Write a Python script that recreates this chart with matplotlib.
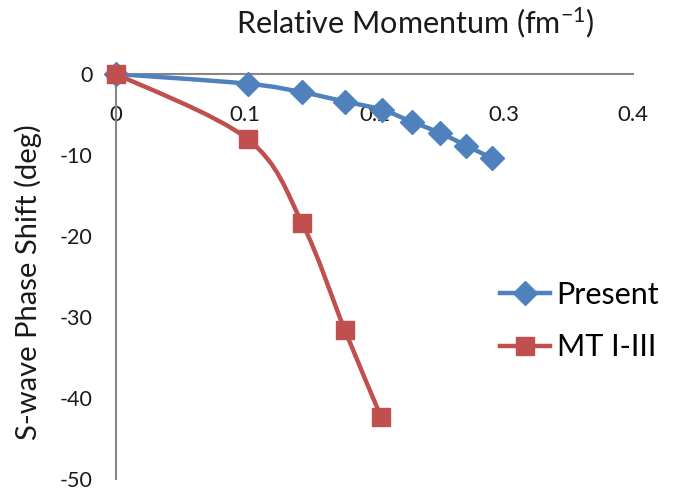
import matplotlib
matplotlib.use("Agg")
import matplotlib.pyplot as plt
from matplotlib.path import Path
from matplotlib.patches import PathPatch
from matplotlib.lines import Line2D
import numpy as np

plt.rcParams['font.family'] = ['Lato', 'DejaVu Sans']
plt.rcParams['mathtext.default'] = 'regular'
plt.rcParams['axes.unicode_minus'] = False

# data
present_k = [0.0, 0.102, 0.144, 0.177, 0.2055, 0.229, 0.251, 0.271, 0.291]
present_d = [0.0, -1.2, -2.25, -3.4, -4.4, -5.9, -7.3, -8.85, -10.4]
mt_k = [0.0, 0.102, 0.144, 0.177, 0.205]
mt_d = [0.0, -8.05, -18.4, -31.6, -42.3]
xticks = [0, 0.1, 0.2, 0.3, 0.4]
yticks = [0, -10, -20, -30, -40, -50]

blue = '#4F81BD'
red = '#C0504D'
grey = '#868686'
ink = '#1a1a1a'


def smooth_path(xs, ys):
    # excel-style smoothed line: cubic bezier segments through the points
    p = np.column_stack([xs, ys])
    verts = [p[0]]
    codes = [Path.MOVETO]
    n = len(p)
    for i in range(n - 1):
        p0 = p[i - 1] if i > 0 else p[i]
        p1, p2 = p[i], p[i + 1]
        p3 = p[i + 2] if i + 2 < n else p[i + 1]
        verts += [p1 + (p2 - p0) / 6, p2 - (p3 - p1) / 6, p2]
        codes += [Path.CURVE4] * 3
    return Path(verts, codes)


fig = plt.figure(figsize=(6.91, 4.92), dpi=100)
ax = fig.add_axes([116 / 691, 13 / 492, 517 / 691, 405 / 492])

for xs, ys, c, m, ms in [(present_k, present_d, blue, 'D', 12.5),
                         (mt_k, mt_d, red, 's', 13.5)]:
    ax.add_patch(PathPatch(smooth_path(xs, ys), facecolor='none', edgecolor=c,
                           lw=3.2, capstyle='round', zorder=3))
    ax.plot(xs, ys, linestyle='none', marker=m, ms=ms, color=c, mec=c, zorder=4, clip_on=False)

ax.set_xlim(0, 0.4)
ax.set_ylim(-50, 0)
ax.set_xticks(xticks)
ax.set_xticklabels(['0', '0.1', '0.2', '0.3', '0.4'])
ax.set_yticks(yticks)

for s in ['top', 'right']:
    ax.spines[s].set_visible(False)
ax.spines['bottom'].set_position(('data', 0))
for s in ['bottom', 'left']:
    ax.spines[s].set_color(grey)
    ax.spines[s].set_linewidth(1.5)
ax.tick_params(axis='x', length=0, pad=22, labelsize=16, labelcolor=ink)
ax.tick_params(axis='y', length=0, pad=17, labelsize=15.5, labelcolor=ink)

fig.text(415 / 691, 1 - 23 / 492, 'Relative Momentum (fm$^{-1}$)', ha='center', va='center',
         fontsize=22, color=ink)
fig.text(28 / 691, 1 - 282 / 492, 'S-wave Phase Shift (deg)', ha='center', va='center',
         rotation=90, fontsize=21, color=ink)

handles = [Line2D([], [], color=blue, lw=3.2, marker='D', ms=12.5),
           Line2D([], [], color=red, lw=3.2, marker='s', ms=13.5)]
fig.legend(handles, ['Present', 'MT I-III'], loc='center left',
           bbox_to_anchor=(500 / 691, 1 - 321 / 492), frameon=False, fontsize=22,
           handlelength=1.65, handletextpad=0.2, labelspacing=0.8, borderaxespad=0,
           borderpad=0)

fig.savefig('out.png', dpi=100)
